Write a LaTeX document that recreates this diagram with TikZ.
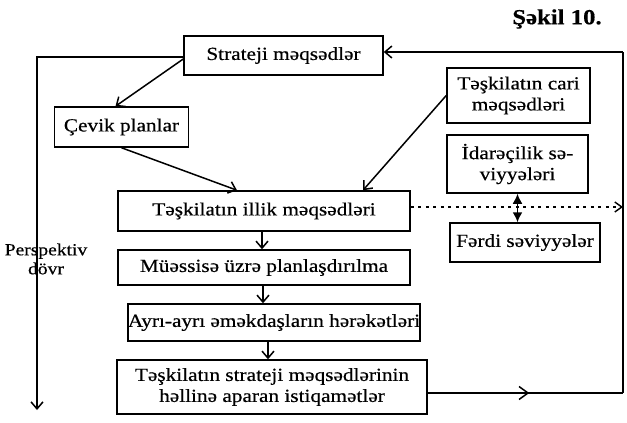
\documentclass[tikz,border=0pt]{standalone}
\usepackage{fontspec}
\setmainfont[FakeStretch=1.15,FakeBold=0.5]{Liberation Serif}
\usetikzlibrary{arrows.meta,decorations.markings}
\begin{document}
\begin{tikzpicture}[x=1pt,y=-1pt,
  font=\fontsize{18.5}{21}\selectfont,
  box/.style={draw, line width=1.5pt, inner sep=0pt, align=center},
  link/.style={line width=1.5pt, -{Straight Barb[length=7pt,width=12pt,line width=1.5pt]}},
  plain/.style={line width=1.5pt},
  dots/.style={line width=1.4pt, dash pattern=on 3pt off 4.5pt,
    -{Straight Barb[length=7pt,width=10pt,line width=1.4pt]}},
  both/.style={line width=1.6pt, {Latex[length=10pt,width=10pt]}-{Latex[length=10pt,width=10pt]}},
  midarrow/.style={decoration={markings, mark=at position 0.52 with
    {\arrow{Straight Barb[length=9pt,width=13pt,line width=1.5pt]}}}, postaction={decorate}}
]
\useasboundingbox (0,0) rectangle (627,423);
\fill[white] (0,0) rectangle (627,423);

% title
\node[font=\fontsize{21.5}{24}\selectfont\bfseries] (title) at (557,19) {Şəkil 10.};

% boxes
\node[box, minimum width=199pt, minimum height=39pt] (sm) at (283.5,55.5) {Strateji məqsədlər};
\node[box, minimum width=134pt, minimum height=40pt] (cv) at (121.5,127) {Çevik planlar};
\node[box, minimum width=143pt, minimum height=55pt] (cr) at (518.5,95.5) {Təşkilatın cari\\məqsədləri};
\node[box, minimum width=141pt, minimum height=58pt] (id) at (517.5,164) {İdarəçilik sə-\\viyyələri};
\node[box, minimum width=150pt, minimum height=39pt] (fd) at (525,242.5) {Fərdi səviyyələr};
\node[box, minimum width=292pt, minimum height=40pt] (il) at (264,211) {Təşkilatın illik məqsədləri};
\node[box, minimum width=292pt, minimum height=35pt] (mu) at (264,267.5) {Müəssisə üzrə planlaşdırılma};
\node[box, minimum width=282pt, minimum height=37pt] (ay) at (274,322.5) {Ayrı-ayrı əməkdaşların hərəkətləri};
\node[box, minimum width=310pt, minimum height=54pt] (fn) at (272,387) {Təşkilatın strateji məqsədlərinin\\həllinə aparan istiqamətlər};

% turning points of the outer lines
\coordinate (lb) at (37,410);
\coordinate (rb) at (623,393);
\coordinate (rt) at (623,52);
\coordinate (dt) at (623,207);

% left time axis with its label on top
\draw[link] ([yshift=-1.5pt]sm.west) -| (lb);
\node[align=center, inner sep=0pt, font=\fontsize{17}{19}\selectfont] (pd) at (46,259) {Perspektiv\\dövr};

% connectors between boxes
\draw[link] ([yshift=-3.5pt]sm.west) -- ([xshift=-6pt]cv.north);
\draw[link] (cv.south) -- ([xshift=-27pt]il.north);
\draw[link] (cr.west) -- ([xshift=99pt]il.north);
\draw[link] (il.south -| 262,0) -- (mu.north -| 262,0);
\draw[link] (mu.south -| 263,0) -- (ay.north -| 263,0);
\draw[link] (ay.south -| 268,0) -- (fn.north -| 268,0);
\draw[both] (id.south) -- (fd.north -| id.south);
\draw[dots] ([yshift=4pt]il.east) -- (dt);

% feedback loop back to the strategic goals
\draw[plain, midarrow] ([yshift=-6pt]fn.east) -- (rb);
\draw[plain] (rb) -- (rt);
\draw[link] (rt) -- (sm.east |- rt);
\end{tikzpicture}
\end{document}
